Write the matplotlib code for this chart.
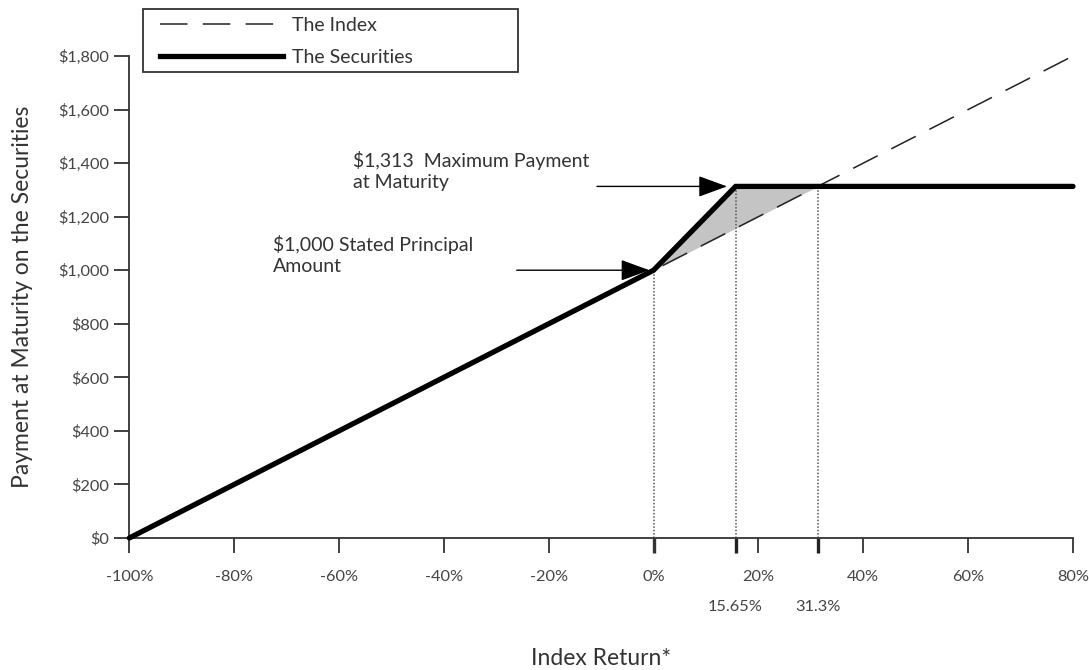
import matplotlib
matplotlib.use("Agg")
import matplotlib.pyplot as plt
from matplotlib.lines import Line2D
from matplotlib.patches import Rectangle

# ---- data ----
index_x = [-100, 80]
index_y = [0, 1800]
sec_x = [-100, 0, 15.65, 80]
sec_y = [0, 1000, 1313, 1313]
shade_x = [0, 15.65, 31.3]
shade_upper = [1000, 1313, 1313]
shade_lower = [1000, 1156.5, 1313]
guide_x = [0, 15.65, 31.3]
guide_top = [1000, 1313, 1313]

xticks = [-100, -80, -60, -40, -20, 0, 20, 40, 60, 80]
xtick_labels = ["-100%", "-80%", "-60%", "-40%", "-20%", "0%", "20%", "40%", "60%", "80%"]
special_ticks = [15.65, 31.3]
special_labels = ["15.65%", "31.3%"]
yticks = [0, 200, 400, 600, 800, 1000, 1200, 1400, 1600, 1800]
ytick_labels = ["$0", "$200", "$400", "$600", "$800", "$1,000", "$1,200", "$1,400", "$1,600", "$1,800"]

plt.rcParams['font.family'] = ['Lato', 'DejaVu Sans']

W, H = 1089, 670
fig = plt.figure(figsize=(W / 100, H / 100), dpi=100)
ax = fig.add_axes([129.3 / W, (H - 538) / H, (1073 - 129.3) / W, (538 - 56) / H])

ax.set_xlim(-100, 80)
ax.set_ylim(0, 1800)

# shaded region
ax.fill_between(shade_x, shade_lower, shade_upper, color='#c4c4c4', lw=0, zorder=1)

# dotted guides
ax.vlines(guide_x, 0, guide_top, colors='#555555', linestyles=(0, (1, 1.2)), lw=1.1, zorder=2)

# index line
ax.plot(index_x, index_y, color='#222222', lw=1.1, dashes=(18, 10), zorder=3, clip_on=False)
# securities line
ax.plot(sec_x, sec_y, color='black', lw=3.8, solid_capstyle='round', solid_joinstyle='miter',
        zorder=4, clip_on=False)

# spines
for s in ['top', 'right']:
    ax.spines[s].set_visible(False)
for s in ['left', 'bottom']:
    ax.spines[s].set_linewidth(1.3)
    ax.spines[s].set_color('#333333')

ax.set_yticks(yticks)
ax.set_yticklabels(ytick_labels)
ax.set_xticks(xticks)
ax.set_xticklabels(xtick_labels)
ax.set_xticks(special_ticks, minor=True)
ax.set_xticklabels(special_labels, minor=True)

ax.tick_params(axis='y', which='major', direction='out', length=11, width=1.3, color='#333333',
               labelsize=11.8, labelcolor='#444444', pad=3.5)
ax.tick_params(axis='x', which='major', direction='out', length=10.5, width=1.3, color='#333333',
               labelsize=11.8, labelcolor='#444444', pad=12.5)
ax.tick_params(axis='x', which='minor', direction='out', length=10.5, width=2.4, color='#222222',
               labelsize=11.8, labelcolor='#444444', pad=34)
for t in ax.xaxis.get_major_ticks():
    if t.get_loc() == 0:
        t.tick1line.set_markeredgewidth(2.4)

ax.set_ylabel("Payment at Maturity on the Securities", fontsize=16.5, color='#333333', va='center')
ax.yaxis.set_label_coords(-0.1134, 0.5)
ax.set_xlabel("Index Return*", fontsize=16.5, color='#333333', va='center')
ax.xaxis.set_label_coords(0.5, -0.2495)

# annotations
arrow_kw = dict(arrowstyle='-|>,head_length=0.6,head_width=0.22', mutation_scale=30, lw=1.0,
                color='black', shrinkA=0, shrinkB=0)
ax.annotate("", xy=(-0.8, 1000), xytext=(-26.1, 1000), arrowprops=arrow_kw, zorder=5)
ax.annotate("", xy=(14.0, 1313), xytext=(-10.8, 1313), arrowprops=arrow_kw, zorder=5)

ax.text(-72.6, 1057, "$1,000 Stated Principal\nAmount", fontsize=14, color='#333333',
        ha='left', va='center', linespacing=1.3)
ax.text(-57.3, 1370, "$1,313  Maximum Payment\nat Maturity", fontsize=14, color='#333333',
        ha='left', va='center', linespacing=1.25)

# legend
handles = [Line2D([], [], color='#222222', lw=1.1, dashes=(18, 10)),
           Line2D([], [], color='black', lw=3.8)]
leg = fig.legend(handles, ["The Index", "The Securities"], loc='upper left',
                 bbox_to_anchor=(160 / W, 1 - 17 / H),
                 fontsize=14, handlelength=6.33, handletextpad=0.46, labelspacing=0.75,
                 borderpad=0, borderaxespad=0, frameon=False, labelcolor='#333333')
fig.add_artist(Rectangle((143 / W, 1 - 72 / H), 375 / W, 63 / H, transform=fig.transFigure,
                         fill=False, ec='#333333', lw=1.3))

fig.savefig("out.png", dpi=100)
